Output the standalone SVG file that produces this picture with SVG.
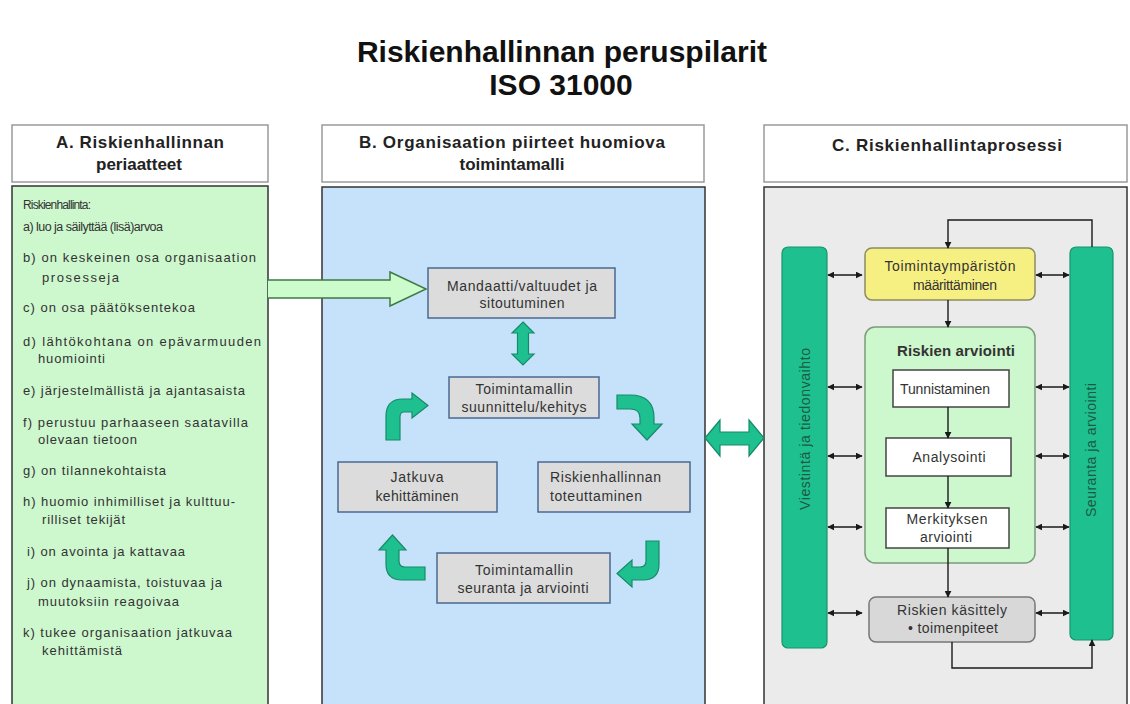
<svg xmlns="http://www.w3.org/2000/svg" width="1130" height="704" viewBox="0 0 1130 704">
  <defs>
    <style>
      .t { font-family: "Liberation Sans", Arial, sans-serif; fill: #333; }
      .title { font-family: "Liberation Sans", Arial, sans-serif; font-weight: bold; font-size: 30px; fill: #111; text-anchor: middle; }
      .hdr { font-family: "Liberation Sans", Arial, sans-serif; font-weight: bold; font-size: 17px; fill: #222; text-anchor: middle; }
      .li { font-size: 13px; }
      .nd { font-size: 14px; text-anchor: middle; }
      .hbox { fill: #fff; stroke: #9a9a9a; stroke-width: 1.5; }
      .panel { stroke: #333; stroke-width: 1.5; }
      .bnode { fill: #dcdcdc; stroke: #4b6891; stroke-width: 1.5; }
      .teal { fill: #1fc08f; stroke: #168a68; stroke-width: 1.2; }
      .wbox { fill: #fff; stroke: #444; stroke-width: 1.5; }
      .ln { fill: none; stroke: #1a1a1a; stroke-width: 1.4; }
      .bar { fill: #1fc08f; stroke: #17946d; stroke-width: 1.2; }
      .vt { font-family: "Liberation Sans", Arial, sans-serif; font-size: 14px; fill: #1b5a41; text-anchor: middle; }
    </style>
    <marker id="ah" viewBox="0 0 10 10" refX="9" refY="5" markerWidth="7" markerHeight="7" orient="auto-start-reverse" markerUnits="userSpaceOnUse">
      <path d="M0,0 L10,5 L0,10 Z" fill="#1a1a1a"/>
    </marker>
  </defs>

  <rect width="1130" height="704" fill="#fff"/>

  <!-- title -->
  <g id="title">
    <text class="title" x="562" y="62">Riskienhallinnan peruspilarit</text>
    <text class="title" x="561" y="95">ISO 31000</text>
  </g>

  <!-- column headers -->
  <g id="header-a">
    <rect class="hbox" x="12" y="125" width="256" height="57"/>
    <text class="hdr" x="140" y="148" textLength="168">A. Riskienhallinnan</text>
    <text class="hdr" x="139" y="170">periaatteet</text>
  </g>
  <g id="header-b">
    <rect class="hbox" x="322" y="125" width="382" height="57"/>
    <text class="hdr" x="512" y="148" textLength="306">B. Organisaation piirteet huomiova</text>
    <text class="hdr" x="512" y="170">toimintamalli</text>
  </g>
  <g id="header-c">
    <rect class="hbox" x="764" y="125" width="363" height="57"/>
    <text class="hdr" x="947" y="151" textLength="230">C. Riskienhallintaprosessi</text>
  </g>

  <!-- column A: principles -->
  <g id="panel-a">
    <rect class="panel" x="12" y="186" width="256" height="530" fill="#cdf7cd"/>
    <g class="t li">
      <text x="23" y="209" font-size="12" textLength="68">Riskienhallinta:</text>
      <text x="23" y="231" font-size="12.5" textLength="140">a) luo ja säilyttää (lisä)arvoa</text>
      <text x="23" y="262" textLength="233">b) on keskeinen osa organisaation</text>
      <text x="42" y="282" textLength="77">prosesseja</text>
      <text x="23" y="312" textLength="172">c) on osa päätöksentekoa</text>
      <text x="23" y="346" textLength="238">d) lähtökohtana on epävarmuuden</text>
      <text x="38" y="363" textLength="67">huomiointi</text>
      <text x="23" y="395" textLength="222">e) järjestelmällistä ja ajantasaista</text>
      <text x="23" y="427" textLength="225">f) perustuu parhaaseen saatavilla</text>
      <text x="38" y="444" textLength="99">olevaan tietoon</text>
      <text x="23" y="475" textLength="143">g) on tilannekohtaista</text>
      <text x="23" y="506" textLength="212">h) huomio inhimilliset ja kulttuu-</text>
      <text x="42" y="524" textLength="83">rilliset tekijät</text>
      <text x="27" y="556" textLength="158">i) on avointa ja kattavaa</text>
      <text x="27" y="587" textLength="195">j) on dynaamista, toistuvaa ja</text>
      <text x="38" y="606" textLength="141">muutoksiin reagoivaa</text>
      <text x="23" y="637" textLength="209">k) tukee organisaation jatkuvaa</text>
      <text x="42" y="655" textLength="80">kehittämistä</text>
    </g>
  </g>

  <!-- column B: framework -->
  <g id="panel-b">
    <rect class="panel" x="322" y="187" width="383" height="530" fill="#c6e2fb"/>
  </g>

  <g id="node-mandaatti">
    <rect class="bnode" x="428" y="268" width="187" height="50"/>
    <text class="t nd" x="522" y="291" textLength="150">Mandaatti/valtuudet ja</text>
    <text class="t nd" x="522" y="308" textLength="85">sitoutuminen</text>
  </g>
  <g id="node-suunnittelu">
    <rect class="bnode" x="449" y="377" width="150" height="41"/>
    <text class="t nd" x="524" y="394" textLength="97">Toimintamallin</text>
    <text class="t nd" x="524" y="412" textLength="125">suunnittelu/kehitys</text>
  </g>
  <g id="node-jatkuva">
    <rect class="bnode" x="338" y="462" width="159" height="50"/>
    <text class="t nd" x="417" y="482" textLength="53">Jatkuva</text>
    <text class="t nd" x="417" y="501" textLength="83">kehittäminen</text>
  </g>
  <g id="node-toteuttaminen">
    <rect class="bnode" x="538" y="462" width="152" height="50"/>
    <text class="t" font-size="14" x="550" y="482" textLength="111">Riskienhallinnan</text>
    <text class="t" font-size="14" x="550" y="501" textLength="92">toteuttaminen</text>
  </g>
  <g id="node-seuranta">
    <rect class="bnode" x="437" y="553" width="173" height="50"/>
    <text class="t nd" x="524" y="575" textLength="98">Toimintamallin</text>
    <text class="t nd" x="523" y="593" textLength="131">seuranta ja arviointi</text>
  </g>

  <!-- column C: process -->
  <g id="panel-c">
    <rect class="panel" x="764" y="187" width="363" height="530" fill="#ebebeb"/>
  </g>

  <g id="bar-viestinta">
    <rect class="bar" x="782" y="247" width="45" height="401" rx="6"/>
    <text class="vt" transform="translate(810,429) rotate(-90)" textLength="162">Viestintä ja tiedonvaihto</text>
  </g>
  <g id="bar-seuranta">
    <rect class="bar" x="1070" y="247" width="43" height="393" rx="6"/>
    <text class="vt" transform="translate(1096,450) rotate(-90)" textLength="134">Seuranta ja arviointi</text>
  </g>

  <g id="node-toimintaymparisto">
    <rect x="865" y="248" width="170" height="52" rx="7" fill="#f6ef82" stroke="#8c8c5e" stroke-width="1.5"/>
    <text class="t nd" x="950" y="271" textLength="131">Toimintaympäristön</text>
    <text class="t nd" x="955" y="290" textLength="84">määrittäminen</text>
  </g>

  <g id="node-arviointi">
    <rect x="865" y="327" width="170" height="236" rx="10" fill="#cdf7cd" stroke="#7c9a7c" stroke-width="1.5"/>
    <text class="t" x="956" y="356" font-size="15" font-weight="bold" text-anchor="middle" fill="#223" textLength="118">Riskien arviointi</text>
  </g>
  <g id="node-tunnistaminen">
    <rect class="wbox" x="893" y="370" width="116" height="37" stroke="#aaa"/>
    <text class="t nd" x="945" y="394" fill="#555" textLength="90">Tunnistaminen</text>
  </g>
  <g id="node-analysointi">
    <rect class="wbox" x="886" y="438" width="125" height="38"/>
    <text class="t nd" x="949" y="462" textLength="73">Analysointi</text>
  </g>
  <g id="node-merkitys">
    <rect class="wbox" x="886" y="508" width="123" height="40"/>
    <text class="t nd" x="947" y="524" textLength="81">Merkityksen</text>
    <text class="t nd" x="946" y="542" textLength="52">arviointi</text>
  </g>
  <g id="node-kasittely">
    <rect x="869" y="597" width="166" height="45" rx="7" fill="#d8d8d8" stroke="#777" stroke-width="1.5"/>
    <text class="t nd" x="952" y="615" fill="#444" textLength="110">Riskien käsittely</text>
    <text class="t nd" x="953" y="633" textLength="90">• toimenpiteet</text>
  </g>

  <!-- connectors -->
  <g id="connectors">
    <!-- principles feed the mandate -->
    <path d="M268,280 L390,280 L390,272 L426,289 L390,306 L390,298 L268,298" fill="#ccfccc" stroke="#3f7a44" stroke-width="1.5"/>

    <!-- framework cycle -->
    <path class="teal" d="M523,322 L534,333 L528.5,333 L528.5,354 L534,354 L523,365 L512,354 L517.5,354 L517.5,333 L512,333 Z"/>
    <path class="teal" d="M617,395 L630,395 Q654,395 654,418 L654,424 L662,424 L647,440 L632,424 L640,424 L640,418 Q640,409 630,409 L617,409 Z"/>
    <path class="teal" d="M659,541 L659,564 Q659,580 643,580 L632,580 L632,587 L617,573.5 L632,560 L632,567 L640,567 Q646,567 646,561 L646,541 Z"/>
    <path class="teal" d="M425,567 L405,567 Q399,567 399,561 L399,550 L406,550 L392.5,535 L379,550 L386,550 L386,564 Q386,580 402,580 L425,580 Z"/>
    <path class="teal" d="M386,440 L386,416 Q386,399 403,399 L412,399 L412,393 L428,405.5 L412,418 L412,412 L404,412 Q400,412 400,417 L400,440 Z"/>

    <!-- framework and process linked both ways -->
    <path class="teal" d="M705,438 L720,420 L720,432 L749,432 L749,420 L764,438 L749,456 L749,445 L720,445 L720,456 Z"/>

    <!-- process flow -->
    <line class="ln" x1="948" y1="300" x2="948" y2="327" marker-end="url(#ah)"/>
    <line class="ln" x1="948" y1="407" x2="948" y2="438" marker-end="url(#ah)"/>
    <line class="ln" x1="948" y1="476" x2="948" y2="508" marker-end="url(#ah)"/>
    <line class="ln" x1="948" y1="548" x2="948" y2="597" marker-end="url(#ah)"/>
    <polyline class="ln" points="1092,247 1092,220 948,220 948,248" marker-end="url(#ah)"/>
    <polyline class="ln" points="952,642 952,668 1092,668 1092,640" marker-end="url(#ah)"/>

    <!-- communication and monitoring links -->
    <line class="ln" x1="828" y1="275" x2="862" y2="275" marker-start="url(#ah)" marker-end="url(#ah)"/>
    <line class="ln" x1="828" y1="387" x2="862" y2="387" marker-start="url(#ah)" marker-end="url(#ah)"/>
    <line class="ln" x1="828" y1="456" x2="862" y2="456" marker-start="url(#ah)" marker-end="url(#ah)"/>
    <line class="ln" x1="828" y1="527" x2="862" y2="527" marker-start="url(#ah)" marker-end="url(#ah)"/>
    <line class="ln" x1="828" y1="613" x2="862" y2="613" marker-start="url(#ah)" marker-end="url(#ah)"/>
    <line class="ln" x1="1036" y1="275" x2="1069" y2="275" marker-start="url(#ah)" marker-end="url(#ah)"/>
    <line class="ln" x1="1036" y1="387" x2="1069" y2="387" marker-start="url(#ah)" marker-end="url(#ah)"/>
    <line class="ln" x1="1036" y1="456" x2="1069" y2="456" marker-start="url(#ah)" marker-end="url(#ah)"/>
    <line class="ln" x1="1036" y1="527" x2="1069" y2="527" marker-start="url(#ah)" marker-end="url(#ah)"/>
    <line class="ln" x1="1036" y1="613" x2="1069" y2="613" marker-start="url(#ah)" marker-end="url(#ah)"/>
  </g>
</svg>
